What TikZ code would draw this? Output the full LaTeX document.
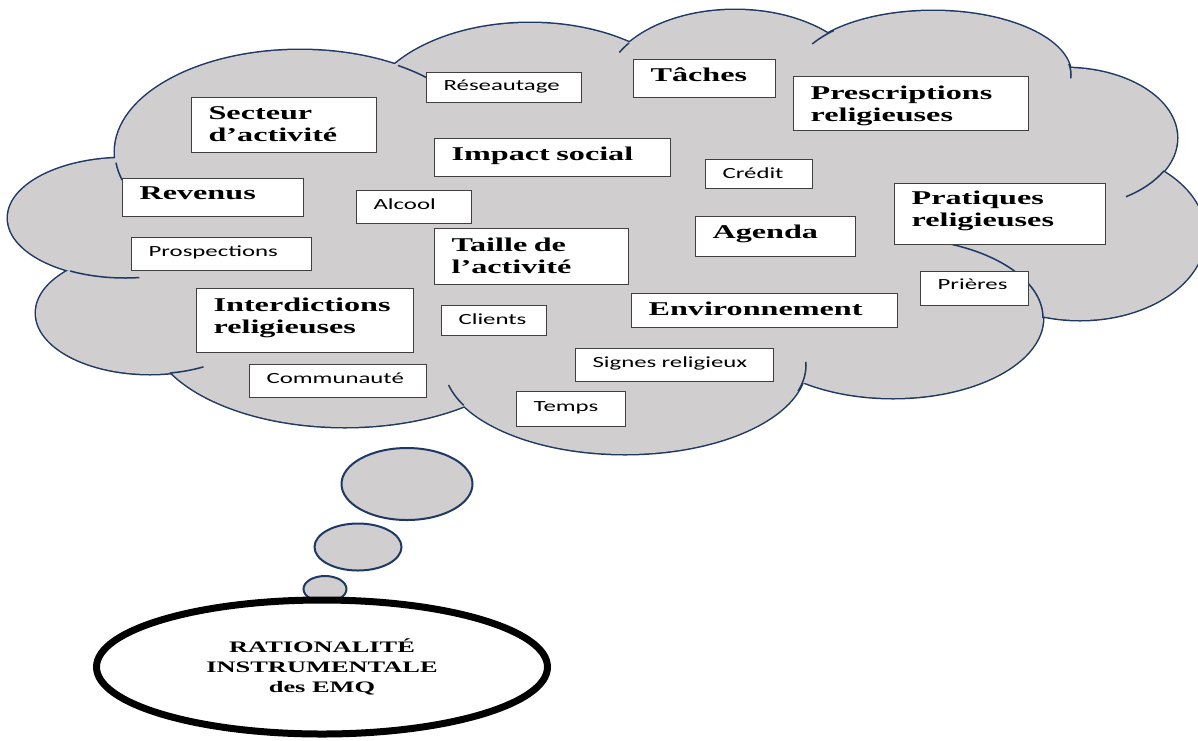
\documentclass[tikz,border=0pt]{standalone}
\usepackage{fontspec}
\usetikzlibrary{calc,shapes.geometric}
\newfontfamily\labelserif[FakeStretch=1.65]{Liberation Serif Bold}
\newfontfamily\labelsans[FakeStretch=1.6]{Carlito}
\definecolor{cloudfill}{RGB}{208,206,206}
\definecolor{cloudline}{RGB}{31,56,100}
\definecolor{boxline}{RGB}{64,64,64}
\hyphenpenalty=10000
\exhyphenpenalty=10000

% lobes of the cloud: centre x / centre y / x radius / y radius
\def\cloudlobes{125/218/117/60, 300/152/185/102, 530/120/165/97,
  735/90/131/80, 933/75/138/64, 1065/138/112/70, 1080/235/125/85,
  893/318/150/80, 625/365/181/89, 345/326/196/101, 150/313/114/61}

\begin{document}
\begin{tikzpicture}[x=1pt,y=-1pt,
  term/.style={draw=boxline, line width=1.2pt, fill=white, anchor=north west,
    inner xsep=17pt, inner ysep=0pt, align=left},
  major/.style={term, font=\labelserif\fontsize{19.5pt}{22pt}\selectfont},
  minor/.style={term, font=\labelsans\fontsize{15.5pt}{18pt}\selectfont},
  bubble/.style={ellipse, draw=cloudline, line width=2pt, fill=cloudfill, inner sep=0pt},
  lobe/.style={draw=cloudline, line width=3pt},
  seam/.style={draw=cloudline, line width=1.5pt},
]
\useasboundingbox (0,0) rectangle (1198,740);
\fill[white] (0,0) rectangle (1198,740);

% cloud: outline of every lobe, then the fill hides the inner halves
\foreach \cx/\cy/\rx/\ry in \cloudlobes
  \draw[lobe] (\cx,\cy) ellipse [x radius=\rx, y radius=\ry];
\foreach \cx/\cy/\rx/\ry in \cloudlobes
  \fill[cloudfill] (\cx,\cy) ellipse [x radius=\rx, y radius=\ry];
\fill[cloudfill] (116,157) -- (399,63) -- (629,43) -- (829,34) -- (1071,70)
  -- (1164,170) -- (1042,318) -- (801,384) -- (464,406) -- (170,373)
  -- (70,271) -- cycle;

% short inner arcs where one lobe runs on past its neighbour
\draw[seam] ($(125,218)+(118:117 and 60)$) arc[start angle=118, end angle=83, x radius=117, y radius=60];
\draw[seam] ($(300,152)+(-186:185 and 102)$) arc[start angle=-186, end angle=-196, x radius=185, y radius=102];
\draw[seam] ($(300,152)+(-58:185 and 102)$) arc[start angle=-58, end angle=-47, x radius=185, y radius=102];
\draw[seam] ($(735,90)+(-144:131 and 80)$) arc[start angle=-144, end angle=-152, x radius=131, y radius=80];
\draw[seam] ($(933,75)+(-136:138 and 64)$) arc[start angle=-136, end angle=-151, x radius=138, y radius=64];
\draw[seam] ($(933,75)+(-10:138 and 64)$) arc[start angle=-10, end angle=3, x radius=138, y radius=64];
\draw[seam] ($(1065,138)+(28:112 and 70)$) arc[start angle=28, end angle=57, x radius=112, y radius=70];
\draw[seam] ($(893,318)+(-67:150 and 80)$) arc[start angle=-67, end angle=0, x radius=150, y radius=80];
\draw[seam] ($(625,365)+(17:181 and 89)$) arc[start angle=17, end angle=-2, x radius=181, y radius=89];
\draw[seam] ($(625,365)+(153:181 and 89)$) arc[start angle=153, end angle=167, x radius=181, y radius=89];
\draw[seam] ($(150,313)+(80:114 and 61)$) arc[start angle=80, end angle=62, x radius=114, y radius=61];

% terms inside the cloud
\node[minor, text width=121pt, text height=18pt, text depth=12pt] (reseau) at (426,72) {Réseautage};
\node[major, text width=108pt, text height=22pt, text depth=16pt] (taches) at (633,59) {Tâches};
\node[major, text width=201pt, text height=23pt, text depth=31pt] (prescr) at (793,76) {Prescriptions\\religieuses};
\node[major, text width=151pt, text height=22pt, text depth=33pt] (secteur) at (191,97) {Secteur\\d’activité};
\node[major, text width=202pt, text height=22pt, text depth=16pt] (impact) at (434,138) {Impact social};
\node[minor, text width=73pt, text height=19pt, text depth=10pt] (credit) at (705,159) {Crédit};
\node[major, text width=147pt, text height=21pt, text depth=17pt] (revenus) at (122,178) {Revenus};
\node[minor, text width=81pt, text height=19pt, text depth=14pt] (alcool) at (356,190) {Alcool};
\node[major, text width=177pt, text height=21pt, text depth=40pt] (pratiques) at (894,183) {Pratiques\\religieuses};
\node[major, text width=126pt, text height=22pt, text depth=18pt] (agenda) at (695,216) {Agenda};
\node[minor, text width=146pt, text height=19pt, text depth=14pt] (prosp) at (131,237) {Prospections};
\node[major, text width=160pt, text height=23pt, text depth=33pt] (taille) at (434,228) {Taille de\\l’activité};
\node[minor, text width=74pt, text height=18pt, text depth=16pt] (prieres) at (920,271) {Prières};
\node[major, text width=183pt, text height=23pt, text depth=41pt] (interd) at (196,288) {Interdictions\\religieuses};
\node[minor, text width=71pt, text height=19pt, text depth=11pt] (clients) at (441,305) {Clients};
\node[major, text width=232pt, text height=22pt, text depth=12pt] (envir) at (631,293) {Environnement};
\node[minor, text width=164pt, text height=19pt, text depth=14pt] (signes) at (575,348) {Signes religieux};
\node[minor, text width=143pt, text height=19pt, text depth=14pt] (commu) at (249,364) {Communauté};
\node[minor, text width=75pt, text height=20pt, text depth=15pt] (temps) at (516,391) {Temps};

% thought bubbles and the main ellipse
\node[bubble, minimum width=131pt, minimum height=72pt] (b1) at (407,484) {};
\node[bubble, minimum width=87pt, minimum height=47pt] (b2) at (358,547) {};
\node[bubble, minimum width=43pt, minimum height=26pt] (b3) at (325,589) {};
\node[ellipse, draw=black, line width=7pt, fill=white, inner sep=0pt,
  minimum width=451pt, minimum height=134pt, align=center,
  font=\labelserif\fontsize{16pt}{20pt}\selectfont] (rationalite) at (322,667)
  {RATIONALITÉ\\INSTRUMENTALE\\des EMQ};
\end{tikzpicture}
\end{document}
